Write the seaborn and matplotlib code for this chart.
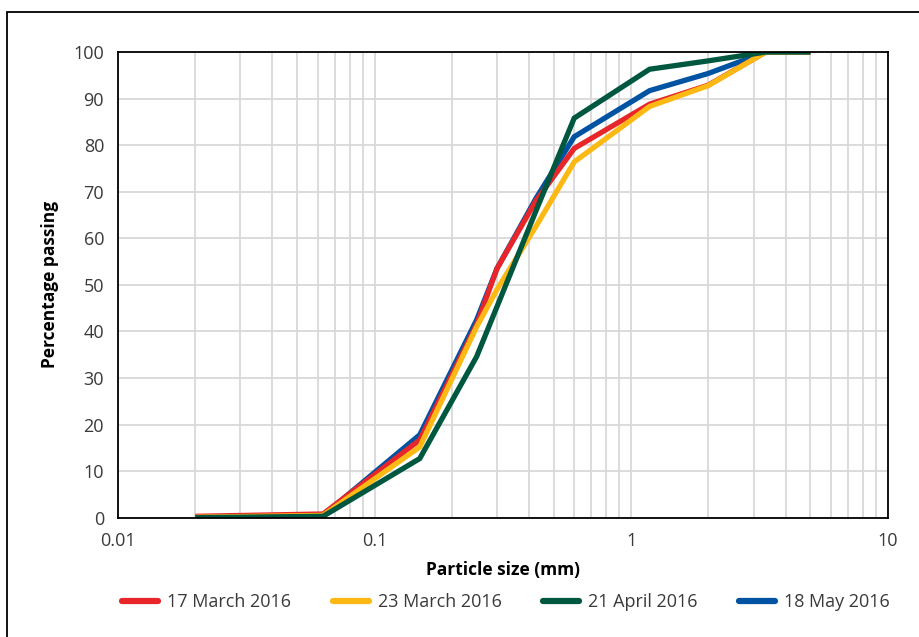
import numpy as np
import pandas as pd
import matplotlib
matplotlib.use("Agg")
import matplotlib.pyplot as plt
import matplotlib.ticker as mticker
from matplotlib.patches import Rectangle
import seaborn as sns

# ---- data ----
sizes_mm = [0.02, 0.063, 0.15, 0.25, 0.3, 0.425, 0.6, 1.18, 2.0, 3.35, 5.0]
series_names = ["17 March 2016", "23 March 2016", "21 April 2016", "18 May 2016"]
march17 = [0.3, 0.8, 16.7, 41.5, 53.5, 68.0, 79.3, 88.8, 92.9, 100, 100]
march23 = [0.1, 0.5, 15.2, 41.0, 49.0, 62.5, 76.4, 88.3, 92.8, 100, 100]
april21 = [0.0, 0.3, 12.7, 34.6, 45.3, 65.8, 85.8, 96.3, 98.1, 100, 100]
may18 = [0.1, 0.5, 17.8, 42.5, 53.5, 68.5, 81.8, 91.7, 95.4, 100, 100]
series_values = [march17, march23, april21, may18]
colors = ["#E8262A", "#FDB913", "#00573F", "#0052A3"]

x_ticks = [0.01, 0.1, 1, 10]
x_tick_labels = ["0.01", "0.1", "1", "10"]
y_ticks = list(range(0, 101, 10))

rows = []
for name, vals in zip(series_names, series_values):
    for s, v in zip(sizes_mm, vals):
        rows.append({"size": s, "pct": v, "series": name})
df = pd.DataFrame(rows)

sns.set_theme(style="white")
plt.rcParams["font.family"] = ["Open Sans", "DejaVu Sans"]

fig = plt.figure(figsize=(9.2, 6.37), dpi=100)
ax = fig.add_axes([118 / 920, 1 - 517.7 / 637, (887.7 - 118) / 920, (517.7 - 52) / 637])

draw_z = {3: 3, 0: 4, 1: 5, 2: 6}
handles = {}
for i in [3, 0, 1, 2]:
    name = series_names[i]
    sub = df[df["series"] == name]
    sns.lineplot(data=sub, x="size", y="pct", color=colors[i], lw=3.8,
                 ax=ax, label=name, sort=False,
                 solid_joinstyle="miter", solid_capstyle="butt")
    ln = ax.lines[-1]
    ln.set_zorder(draw_z[i])
    handles[name] = ln

ax.set_xscale("log")
ax.set_xlim(0.01, 10)
ax.set_ylim(0, 100)
ax.set_xticks(x_ticks)
ax.set_xticklabels(x_tick_labels)
ax.xaxis.set_minor_locator(mticker.LogLocator(base=10, subs=np.arange(2, 10)))
ax.xaxis.set_minor_formatter(mticker.NullFormatter())
ax.set_yticks(y_ticks)

ax.grid(True, which="major", axis="both", color="#d9d9d9", lw=1.3)
ax.grid(True, which="minor", axis="x", color="#d9d9d9", lw=1.3)
ax.set_axisbelow(True)

for sp in ax.spines.values():
    sp.set_visible(True)
    sp.set_color("black")
    sp.set_linewidth(1.3)
    sp.set_zorder(10)

ax.tick_params(axis="both", which="major", direction="out", length=6, width=1.2,
               color="black", labelsize=13, labelcolor="#3a3a3a", pad=4)
ax.tick_params(axis="x", which="minor", length=0)

ax.set_xlabel("Particle size (mm)", fontsize=12.5, fontweight="bold", color="black", labelpad=8)
ax.set_ylabel("Percentage passing", fontsize=12.5, fontweight="bold", color="black", labelpad=10)

leg = ax.legend([handles[n] for n in series_names], series_names,
                loc="center", bbox_to_anchor=(506 / 920, 1 - 602 / 637), bbox_transform=fig.transFigure,
                ncol=4, frameon=False, fontsize=13, handlelength=2.0, columnspacing=2.3,
                handletextpad=0.5)
for t in leg.get_texts():
    t.set_color("#3a3a3a")
for h in leg.legend_handles:
    h.set_linewidth(4.5)
    h.set_solid_capstyle("round")

fig.patches.append(Rectangle((7 / 920, -0.1), 2.0, 1 - 11.5 / 637 + 0.1,
                             transform=fig.transFigure, fill=False,
                             edgecolor="black", lw=1.3))

fig.savefig("out.png", dpi=100)
